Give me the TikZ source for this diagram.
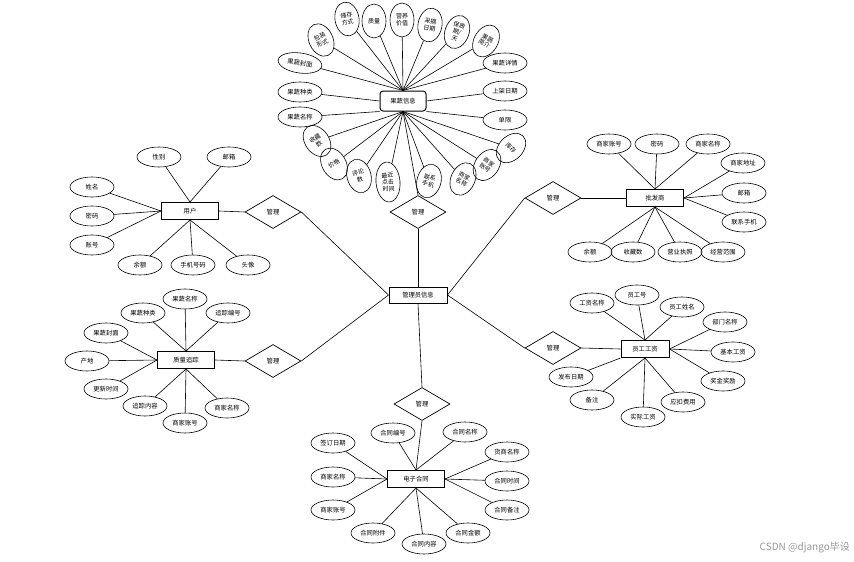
\documentclass[tikz,border=0pt]{standalone}
\usepackage{fontspec}
\setmainfont{Noto Sans CJK SC}
\usetikzlibrary{shapes.geometric}
\newcommand{\fsz}{\fontsize{6.3}{7.2}\selectfont}
\newcommand{\fsv}{\fontsize{6}{6.8}\selectfont}
\tikzset{
  attr/.style={ellipse, draw, line width=0.6pt, minimum width=44pt, minimum height=20pt, inner sep=0pt, font=\fsz},
  vattr/.style={ellipse, draw, line width=0.6pt, minimum width=24pt, minimum height=34pt, inner sep=0pt, align=center, font=\fsv},
  ent/.style={rectangle, draw, line width=1pt, minimum width=57pt, minimum height=17pt, inner sep=0pt, font=\fsz},
  rel/.style={diamond, draw, line width=0.7pt, minimum width=56pt, minimum height=33pt, inner sep=0pt, font=\fsz},
  conn/.style={line width=0.6pt},
  wm/.style={text=black!40, font=\fontsize{10}{12}\selectfont, inner sep=0pt}
}
\begin{document}
\begin{tikzpicture}[x=1pt,y=-1pt]
\useasboundingbox (0,0) rectangle (854,562);
\fill[white] (0,0) rectangle (854,562);

% ---------- central admin ----------
\node[ent, minimum width=58pt, minimum height=16pt] (adm) at (418,295) {管理员信息};
\node[rel] (r1) at (273,212) {管理};
\node[rel] (r2) at (273,361) {管理};
\node[rel] (r3) at (553,198) {管理};
\node[rel] (r4) at (553,348) {管理};
\node[rel] (r5) at (418,212) {管理};
\node[rel] (r6) at (422,404) {管理};
\draw[conn] (r1.east) -- (adm.west);
\draw[conn] (r2.east) -- (adm.west);
\draw[conn] (r3.west) -- (adm.east);
\draw[conn] (r4.west) -- (adm.east);
\draw[conn] (r5.south) -- (adm.north);
\draw[conn] (adm.south) -- (r6.north);

% ---------- fruit/vegetable info ----------
\node[ent, rounded corners=3pt, minimum width=46pt, minimum height=20pt] (g) at (403,101) {果蔬信息};
\node[vattr, rotate=25] (t1) at (321,40) {包装\\形式};
\node[vattr, rotate=10] (t2) at (347,19) {储存\\方式};
\node[vattr] (t3) at (374,21) {质量};
\node[vattr] (t4) at (402,20) {营养\\价值};
\node[vattr, rotate=-10] (t5) at (430,25) {采摘\\日期};
\node[vattr, rotate=-20] (t6) at (457,32) {保质\\期/\\天};
\node[vattr, rotate=-30] (t7) at (486,41) {果蔬\\简介};
\node[attr, rotate=-8] (t8) at (300,63) {果蔬封面};
\node[attr] (t9) at (505,63) {果蔬详情};
\node[attr] (t10) at (300,92) {果蔬种类};
\node[attr] (t11) at (505,91) {上架日期};
\node[attr] (t12) at (300,117) {果蔬名称};
\node[attr] (t13) at (505,120) {单限};
\node[vattr, rotate=35] (b1) at (317,141) {收藏\\数};
\node[vattr, rotate=30] (b2) at (334,164) {价格};
\node[vattr, rotate=15] (b3) at (359,176) {评论\\数};
\node[vattr, rotate=5, minimum height=40pt] (b4) at (388,182) {最近\\点击\\时间};
\node[vattr, rotate=-15] (b5) at (429,181) {联系\\手机};
\node[vattr, rotate=-25] (b6) at (463,179) {商家\\名称};
\node[vattr, rotate=-35] (b7) at (487,165) {商家\\账号};
\node[vattr, rotate=-45] (b8) at (511,148) {库存};
\foreach \n in {t1,t2,t3,t4,t5,t6,t7,t8,t9} \draw[conn] (\n) -- (g.north);
\draw[conn] (t10) -- (g.west);
\draw[conn] (t11) -- (g.east);
\draw[conn] (t12) -- (g.south west);
\draw[conn] (t13) -- (g.south east);
\foreach \n in {b1,b2,b3,b4,b5,b6,b7,b8} \draw[conn] (\n) -- (g.south);
\draw[conn] (r5.north) -- (g.south);

% ---------- user ----------
\node[ent] (u) at (190,211) {用户};
\node[attr] (u1) at (159,157) {性别};
\node[attr] (u2) at (229,157) {邮箱};
\node[attr] (u3) at (92,187) {姓名};
\node[attr] (u4) at (92,216) {密码};
\node[attr] (u5) at (92,245) {账号};
\node[attr] (u6) at (140,265) {余额};
\node[attr] (u7) at (193,265) {手机号码};
\node[attr] (u8) at (248,265) {头像};
\foreach \n in {u1,u2} \draw[conn] (\n) -- (u.north);
\foreach \n in {u3,u4,u5} \draw[conn] (\n) -- (u.west);
\foreach \n in {u6,u7,u8} \draw[conn] (\n) -- (u.south);
\draw[conn] (u.east) -- (r1.west);

% ---------- wholesaler ----------
\node[ent] (m) at (655,198) {批发商};
\node[attr] (m1) at (609,144) {商家账号};
\node[attr] (m2) at (657,144) {密码};
\node[attr] (m3) at (708,144) {商家名称};
\node[attr] (m4) at (743,163) {商家地址};
\node[attr] (m5) at (744,193) {邮箱};
\node[attr] (m6) at (744,222) {联系手机};
\node[attr] (m7) at (590,252) {余额};
\node[attr] (m8) at (633,252) {收藏数};
\node[attr] (m9) at (680,252) {营业执照};
\node[attr] (m10) at (723,252) {经营范围};
\foreach \n in {m1,m2,m3} \draw[conn] (\n) -- (m.north);
\foreach \n in {m4,m5,m6} \draw[conn] (\n) -- (m.east);
\foreach \n in {m7,m8,m9,m10} \draw[conn] (\n) -- (m.south);
\draw[conn] (r3.east) -- (m.west);

% ---------- quality tracking ----------
\node[ent] (q) at (186,360) {质量追踪};
\node[attr] (q1) at (185,299) {果蔬名称};
\node[attr] (q2) at (143,313) {果蔬种类};
\node[attr] (q3) at (228,313) {追踪编号};
\node[attr] (q4) at (106,333) {果蔬封面};
\node[attr] (q5) at (87,361) {产地};
\node[attr] (q6) at (106,389) {更新时间};
\node[attr] (q7) at (145,406) {追踪内容};
\node[attr] (q8) at (185,423) {商家账号};
\node[attr] (q9) at (227,408) {商家名称};
\foreach \n in {q1,q2,q3} \draw[conn] (\n) -- (q.north);
\foreach \n in {q4,q5,q6} \draw[conn] (\n) -- (q.west);
\foreach \n in {q7,q8,q9} \draw[conn] (\n) -- (q.south);
\draw[conn] (q.east) -- (r2.west);

% ---------- staff salary ----------
\node[ent, minimum width=48pt] (s) at (645,349) {员工工资};
\node[attr] (s1) at (592,303) {工资名称};
\node[attr] (s2) at (637,295) {员工号};
\node[attr] (s3) at (682,307) {员工姓名};
\node[attr] (s4) at (725,322) {部门名称};
\node[attr] (s5) at (733,352) {基本工资};
\node[attr] (s6) at (723,381) {奖金奖励};
\node[attr] (s7) at (683,402) {应扣费用};
\node[attr] (s8) at (643,417) {实际工资};
\node[attr] (s9) at (592,400) {备注};
\node[attr] (s10) at (571,377) {发布日期};
\foreach \n in {s1,s2,s3} \draw[conn] (\n) -- (s.north);
\foreach \n in {s4,s5,s6} \draw[conn] (\n) -- (s.east);
\foreach \n in {s7,s8,s9} \draw[conn] (\n) -- (s.south);
\draw[conn] (s10) -- (s.south west);
\draw[conn] (r4.east) -- (s.west);

% ---------- e-contract ----------
\node[ent] (c) at (416,479) {电子合同};
\node[attr] (c1) at (393,433) {合同编号};
\node[attr] (c2) at (465,432) {合同名称};
\node[attr] (c3) at (333,443) {签订日期};
\node[attr] (c4) at (507,452) {货商名称};
\node[attr] (c5) at (333,477) {商家名称};
\node[attr] (c6) at (507,481) {合同时间};
\node[attr] (c7) at (333,510) {商家账号};
\node[attr] (c8) at (507,510) {合同备注};
\node[attr] (c9) at (373,533) {合同附件};
\node[attr] (c10) at (424,544) {合同内容};
\node[attr] (c11) at (468,533) {合同金额};
\foreach \n in {c1,c2} \draw[conn] (\n) -- (c.north);
\foreach \n in {c3,c5,c7} \draw[conn] (\n) -- (c.west);
\foreach \n in {c4,c6,c8} \draw[conn] (\n) -- (c.east);
\foreach \n in {c9,c10,c11} \draw[conn] (\n) -- (c.south);
\draw[conn] (r6.south) -- (c.north);

% ---------- watermark ----------
\node[wm, anchor=east] (wmk) at (850,548) {CSDN @django毕设};
\end{tikzpicture}
\end{document}
